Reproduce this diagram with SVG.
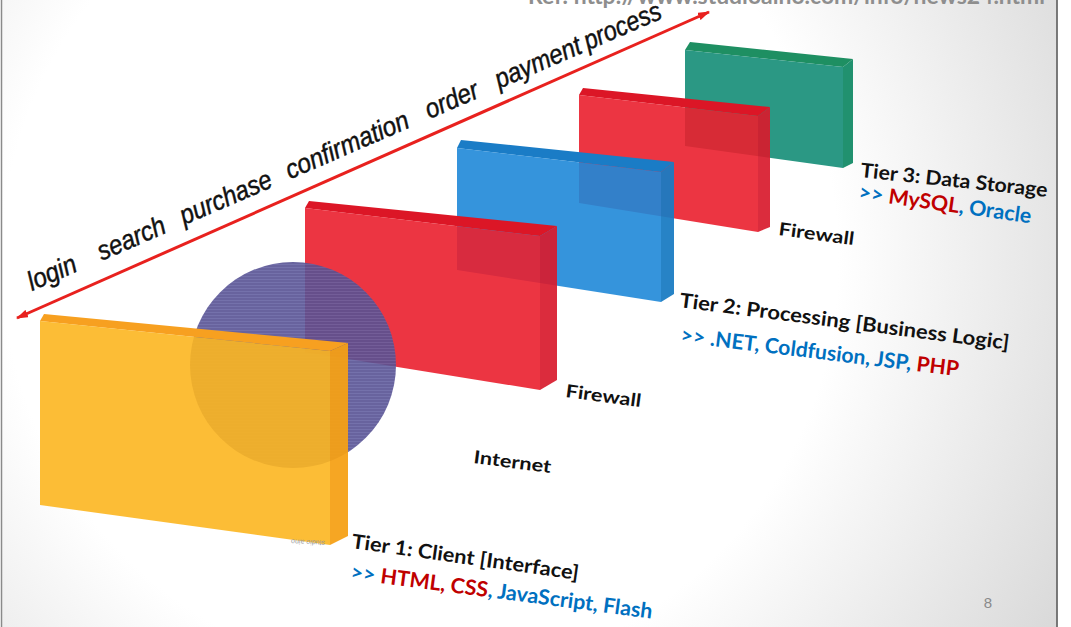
<svg xmlns="http://www.w3.org/2000/svg" width="1071" height="627" viewBox="0 0 1071 627">
<defs>
<radialGradient id="bg" cx="420" cy="260" r="760" gradientUnits="userSpaceOnUse">
<stop offset="0" stop-color="#ffffff"/>
<stop offset="0.55" stop-color="#ffffff"/>
<stop offset="1" stop-color="#d6d6d6"/>
</radialGradient>
<pattern id="scan" width="4" height="3" patternUnits="userSpaceOnUse">
<rect width="4" height="3" fill="#575293"/>
<rect width="4" height="1" fill="#6561a2"/>
</pattern>
<marker id="ah" viewBox="0 0 12 8" refX="11" refY="4" markerWidth="4" markerHeight="2.7" orient="auto-start-reverse">
<path d="M0,0 L12,4 L0,8 z" fill="#e8211e"/>
</marker>
<style>
.lbl{font-family:Lato,"Open Sans","Liberation Sans",sans-serif;font-weight:bold;fill:#111}
.proc{font-family:"Liberation Sans",Arial,sans-serif;font-style:italic;font-size:27px;fill:#111;stroke:#111;stroke-width:0.45}
.blue{fill:#0070c0}
.red{fill:#c00000}
.ref{font-family:Lato,"Liberation Sans",sans-serif;font-weight:bold;font-size:22px;fill:#8e8e8e}
.pg{font-family:"Liberation Sans",Arial,sans-serif;font-size:15px;fill:#8a8a8a}
.rf{fill:#ea1f2e;opacity:0.9}
.rt{fill:#dc1626}
.rs{fill:#d81a2c;opacity:0.92}
</style>
</defs>

<rect x="0" y="0" width="1071" height="627" fill="#ffffff"/>
<rect x="1.5" y="0" width="1056" height="627" fill="url(#bg)"/>
<line x1="1.5" y1="0" x2="1.5" y2="627" stroke="#8a8a8a" stroke-width="1.5"/>
<line x1="1057" y1="0" x2="1057" y2="627" stroke="#555555" stroke-width="1.5"/>

<text class="ref" x="528" y="4" textLength="517" lengthAdjust="spacingAndGlyphs">Ref: http://www.studioaino.com/info/news24.html</text>

<g id="tier3">
<polygon points="685,50 690,42 853,59 843,67" fill="#1e8f62"/>
<polygon points="685,50 843,67 843,168 685,146" fill="#2b9884"/>
<polygon points="843,67 853,59 853,163 843,168" fill="#21916f"/>
<g transform="translate(860,177) rotate(6.1)">
<text class="lbl" x="0" y="0" font-size="20" textLength="188" lengthAdjust="spacingAndGlyphs">Tier 3: Data Storage</text>
</g>
<g transform="translate(858,199) rotate(8)">
<text class="lbl" x="0" y="0" font-size="21" textLength="174" lengthAdjust="spacingAndGlyphs"><tspan class="blue">&gt;&gt; </tspan><tspan class="red">MySQL</tspan><tspan class="blue">, Oracle</tspan></text>
</g>
</g>

<g id="firewall2">
<polygon points="579,95 583,88 770,107 758,116" class="rt"/>
<polygon points="579,95 758,116 758,232 579,203" class="rf"/>
<polygon points="758,116 770,107 770,227 758,232" class="rs"/>
<g transform="translate(778,235) rotate(7.6)">
<text class="lbl" x="0" y="0" font-size="18" textLength="76" lengthAdjust="spacingAndGlyphs">Firewall</text>
</g>
</g>

<g id="tier2">
<polygon points="457,148 461,140 674,162 661,172" fill="#1a7cc6"/>
<polygon points="457,148 661,172 661,302 457,270" fill="#1f88d8" opacity="0.9"/>
<polygon points="661,172 674,162 674,294 661,302" fill="#1a7bc2" opacity="0.94"/>
<g transform="translate(679,307) rotate(7.4)">
<text class="lbl" x="0" y="0" font-size="20" textLength="332" lengthAdjust="spacingAndGlyphs">Tier 2: Processing [Business Logic]</text>
</g>
<g transform="translate(680,342) rotate(7)">
<text class="lbl" x="0" y="0" font-size="21" textLength="280" lengthAdjust="spacingAndGlyphs"><tspan class="blue">&gt;&gt; .NET, Coldfusion, JSP, </tspan><tspan class="red">PHP</tspan></text>
</g>
</g>

<g id="firewall1">
<polygon points="305,208 309,201 557,226 540,236" class="rt"/>
<polygon points="305,208 540,236 540,390 305,352" class="rf"/>
<polygon points="540,236 557,226 557,380 540,390" class="rs"/>
<g transform="translate(565,397) rotate(7.6)">
<text class="lbl" x="0" y="0" font-size="18" textLength="76" lengthAdjust="spacingAndGlyphs">Firewall</text>
</g>
</g>

<g id="internet">
<circle cx="293" cy="365" r="103" fill="url(#scan)" opacity="0.9"/>
<g transform="translate(473,463) rotate(7.4)">
<text class="lbl" x="0" y="0" font-size="18" textLength="78" lengthAdjust="spacingAndGlyphs">Internet</text>
</g>
</g>

<g id="tier1">
<polygon points="40,321 44,314 348,343 330,351" fill="#f7a020"/>
<polygon points="40,321 330,351 330,545 40,505" fill="#fcb620" opacity="0.9"/>
<polygon points="330,351 348,343 348,536 330,545" fill="#f5a015" opacity="0.94"/>
<text x="0" y="0" transform="translate(325,541) rotate(183)" font-family="Liberation Sans, sans-serif" font-size="7" fill="#9a9a9a">studio aino</text>
<g transform="translate(351,548) rotate(8)">
<text class="lbl" x="0" y="0" font-size="20" textLength="229" lengthAdjust="spacingAndGlyphs">Tier 1: Client [Interface]</text>
</g>
<g transform="translate(350,579) rotate(7.5)">
<text class="lbl" x="0" y="0" font-size="21" textLength="304" lengthAdjust="spacingAndGlyphs"><tspan class="blue">&gt;&gt; </tspan><tspan class="red">HTML, CSS</tspan><tspan class="blue">, JavaScript, Flash</tspan></text>
</g>
</g>

<g id="connectors">
<line x1="17" y1="318" x2="709" y2="12" stroke="#e8211e" stroke-width="3" marker-start="url(#ah)" marker-end="url(#ah)"/>
</g>

<g id="process-steps" transform="translate(32,291) rotate(-23.4)">
<text class="proc" x="0" y="0" textLength="51" lengthAdjust="spacingAndGlyphs">login</text>
<text class="proc" x="76" y="0" textLength="72" lengthAdjust="spacingAndGlyphs">search</text>
<text class="proc" x="166" y="0" textLength="98" lengthAdjust="spacingAndGlyphs">purchase</text>
<text class="proc" x="281" y="0" textLength="132" lengthAdjust="spacingAndGlyphs">confirmation</text>
<text class="proc" x="433" y="0" textLength="56" lengthAdjust="spacingAndGlyphs">order</text>
<text class="proc" x="509" y="0" textLength="92" lengthAdjust="spacingAndGlyphs">payment</text>
<text class="proc" x="606" y="0" textLength="82" lengthAdjust="spacingAndGlyphs">process</text>
</g>

<text class="pg" x="988" y="608" text-anchor="middle">8</text>
</svg>
